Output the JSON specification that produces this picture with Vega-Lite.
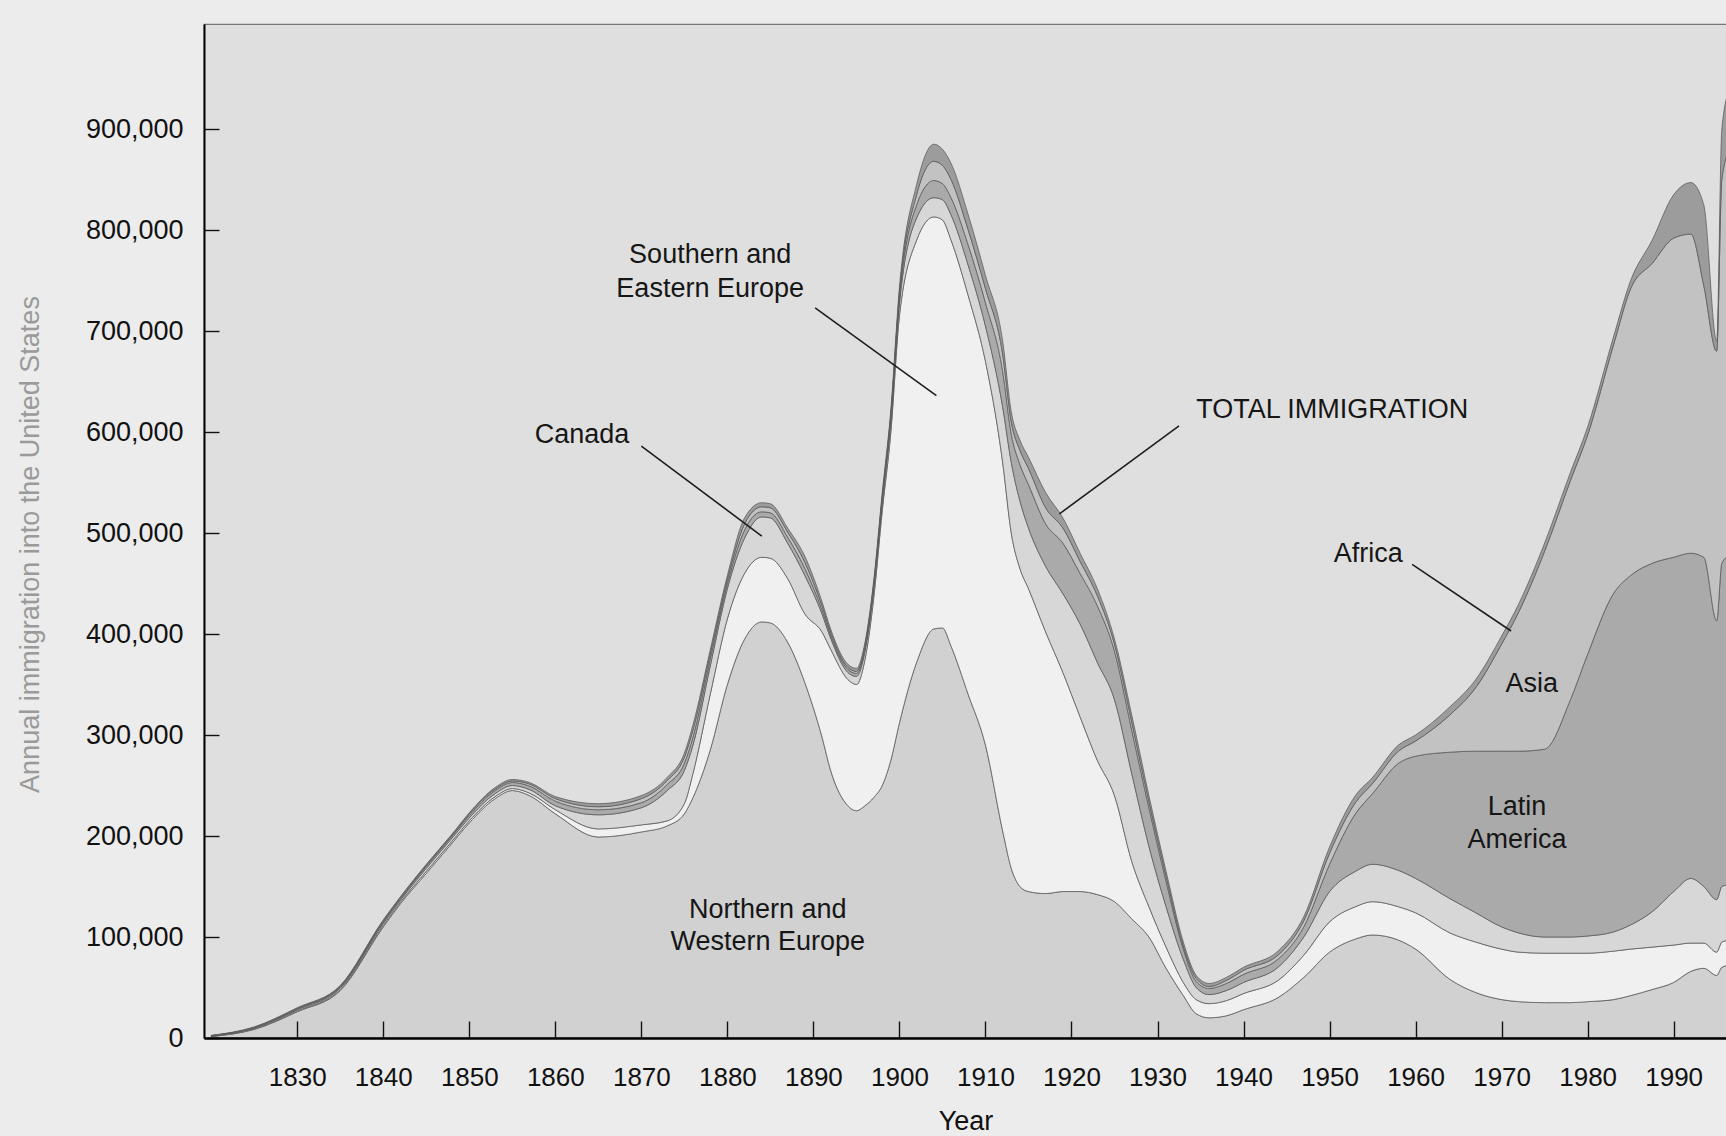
{
  "$schema": "https://vega.github.io/schema/vega-lite/v6.json",
  "width": 1523,
  "height": 1014,
  "autosize": {"type": "none"},
  "padding": {"left": 204, "top": 24, "right": 0, "bottom": 98},
  "background": "#ececec",
  "config": {
    "font": "Liberation Sans",
    "view": {"fill": "#dfdfdf", "stroke": "#777777", "strokeWidth": 1.2}
  },
  "datasets": {
    "immigration": [
      {"year": 1820, "NorthWestEurope": 1500, "SouthEastEurope": 200, "Canada": 300, "LatinAmerica": 200, "Asia": 200, "Africa": 200},
      {"year": 1825, "NorthWestEurope": 8500, "SouthEastEurope": 500, "Canada": 800, "LatinAmerica": 400, "Asia": 300, "Africa": 500},
      {"year": 1830, "NorthWestEurope": 26000, "SouthEastEurope": 800, "Canada": 1200, "LatinAmerica": 700, "Asia": 600, "Africa": 700},
      {"year": 1835, "NorthWestEurope": 47000, "SouthEastEurope": 1000, "Canada": 1500, "LatinAmerica": 1000, "Asia": 800, "Africa": 700},
      {"year": 1840, "NorthWestEurope": 110000, "SouthEastEurope": 1500, "Canada": 2000, "LatinAmerica": 1500, "Asia": 1000, "Africa": 1000},
      {"year": 1842, "NorthWestEurope": 133000, "SouthEastEurope": 1500, "Canada": 2000, "LatinAmerica": 1500, "Asia": 1000, "Africa": 1000},
      {"year": 1845, "NorthWestEurope": 163000, "SouthEastEurope": 2000, "Canada": 3000, "LatinAmerica": 2000, "Asia": 1000, "Africa": 1000},
      {"year": 1848, "NorthWestEurope": 193000, "SouthEastEurope": 2000, "Canada": 3000, "LatinAmerica": 2000, "Asia": 1000, "Africa": 1000},
      {"year": 1850, "NorthWestEurope": 213000, "SouthEastEurope": 2000, "Canada": 3000, "LatinAmerica": 2500, "Asia": 1500, "Africa": 1000},
      {"year": 1853, "NorthWestEurope": 237000, "SouthEastEurope": 2000, "Canada": 3000, "LatinAmerica": 3000, "Asia": 1500, "Africa": 1500},
      {"year": 1855, "NorthWestEurope": 245000, "SouthEastEurope": 2000, "Canada": 3000, "LatinAmerica": 3000, "Asia": 1500, "Africa": 1500},
      {"year": 1857, "NorthWestEurope": 240000, "SouthEastEurope": 2500, "Canada": 3500, "LatinAmerica": 3500, "Asia": 2000, "Africa": 1500},
      {"year": 1860, "NorthWestEurope": 222000, "SouthEastEurope": 4000, "Canada": 4000, "LatinAmerica": 4500, "Asia": 2500, "Africa": 2000},
      {"year": 1865, "NorthWestEurope": 199000, "SouthEastEurope": 8000, "Canada": 14000, "LatinAmerica": 5000, "Asia": 3000, "Africa": 3000},
      {"year": 1870, "NorthWestEurope": 204000, "SouthEastEurope": 7000, "Canada": 17000, "LatinAmerica": 5000, "Asia": 4000, "Africa": 3000},
      {"year": 1873, "NorthWestEurope": 210000, "SouthEastEurope": 5000, "Canada": 30000, "LatinAmerica": 6000, "Asia": 4000, "Africa": 3000},
      {"year": 1875, "NorthWestEurope": 222000, "SouthEastEurope": 10000, "Canada": 33000, "LatinAmerica": 7000, "Asia": 6000, "Africa": 4000},
      {"year": 1876, "NorthWestEurope": 238000, "SouthEastEurope": 24000, "Canada": 28000, "LatinAmerica": 8000, "Asia": 7000, "Africa": 5000},
      {"year": 1878, "NorthWestEurope": 285000, "SouthEastEurope": 55000, "Canada": 28000, "LatinAmerica": 7000, "Asia": 5000, "Africa": 4000},
      {"year": 1880, "NorthWestEurope": 350000, "SouthEastEurope": 65000, "Canada": 30000, "LatinAmerica": 5000, "Asia": 4000, "Africa": 4000},
      {"year": 1882, "NorthWestEurope": 395000, "SouthEastEurope": 65000, "Canada": 35000, "LatinAmerica": 8000, "Asia": 6000, "Africa": 6000},
      {"year": 1884, "NorthWestEurope": 412000, "SouthEastEurope": 64000, "Canada": 40000, "LatinAmerica": 5000, "Asia": 5000, "Africa": 4000},
      {"year": 1885, "NorthWestEurope": 411000, "SouthEastEurope": 64000, "Canada": 40000, "LatinAmerica": 5000, "Asia": 5000, "Africa": 4000},
      {"year": 1887, "NorthWestEurope": 392000, "SouthEastEurope": 63000, "Canada": 35000, "LatinAmerica": 6000, "Asia": 5000, "Africa": 4000},
      {"year": 1889, "NorthWestEurope": 352000, "SouthEastEurope": 68000, "Canada": 38000, "LatinAmerica": 7000, "Asia": 6000, "Africa": 6000},
      {"year": 1891, "NorthWestEurope": 298000, "SouthEastEurope": 104000, "Canada": 18000, "LatinAmerica": 4000, "Asia": 4000, "Africa": 4000},
      {"year": 1892, "NorthWestEurope": 265000, "SouthEastEurope": 120000, "Canada": 11000, "LatinAmerica": 3000, "Asia": 3000, "Africa": 3000},
      {"year": 1894, "NorthWestEurope": 230000, "SouthEastEurope": 125000, "Canada": 7000, "LatinAmerica": 3000, "Asia": 2000, "Africa": 3000},
      {"year": 1895, "NorthWestEurope": 225000, "SouthEastEurope": 125000, "Canada": 8000, "LatinAmerica": 3000, "Asia": 2000, "Africa": 3000},
      {"year": 1896, "NorthWestEurope": 230000, "SouthEastEurope": 145000, "Canada": 8000, "LatinAmerica": 3000, "Asia": 3000, "Africa": 3000},
      {"year": 1897, "NorthWestEurope": 238000, "SouthEastEurope": 197000, "Canada": 8000, "LatinAmerica": 3000, "Asia": 3000, "Africa": 3000},
      {"year": 1898, "NorthWestEurope": 250000, "SouthEastEurope": 272000, "Canada": 8000, "LatinAmerica": 3000, "Asia": 3000, "Africa": 4000},
      {"year": 1899, "NorthWestEurope": 275000, "SouthEastEurope": 325000, "Canada": 10000, "LatinAmerica": 4000, "Asia": 4000, "Africa": 4000},
      {"year": 1900, "NorthWestEurope": 312000, "SouthEastEurope": 403000, "Canada": 12000, "LatinAmerica": 6000, "Asia": 5000, "Africa": 5000},
      {"year": 1902, "NorthWestEurope": 372000, "SouthEastEurope": 418000, "Canada": 22000, "LatinAmerica": 13000, "Asia": 10000, "Africa": 10000},
      {"year": 1904, "NorthWestEurope": 405000, "SouthEastEurope": 408000, "Canada": 19000, "LatinAmerica": 17000, "Asia": 19000, "Africa": 17000},
      {"year": 1905, "NorthWestEurope": 406000, "SouthEastEurope": 404000, "Canada": 20000, "LatinAmerica": 16000, "Asia": 18000, "Africa": 16000},
      {"year": 1906, "NorthWestEurope": 388000, "SouthEastEurope": 402000, "Canada": 25000, "LatinAmerica": 17000, "Asia": 18000, "Africa": 16000},
      {"year": 1908, "NorthWestEurope": 340000, "SouthEastEurope": 395000, "Canada": 30000, "LatinAmerica": 20000, "Asia": 15000, "Africa": 15000},
      {"year": 1910, "NorthWestEurope": 290000, "SouthEastEurope": 380000, "Canada": 35000, "LatinAmerica": 23000, "Asia": 14000, "Africa": 13000},
      {"year": 1912, "NorthWestEurope": 205000, "SouthEastEurope": 365000, "Canada": 55000, "LatinAmerica": 35000, "Asia": 17000, "Africa": 13000},
      {"year": 1913, "NorthWestEurope": 168000, "SouthEastEurope": 332000, "Canada": 70000, "LatinAmerica": 28000, "Asia": 12000, "Africa": 10000},
      {"year": 1914, "NorthWestEurope": 150000, "SouthEastEurope": 315000, "Canada": 67000, "LatinAmerica": 36000, "Asia": 14000, "Africa": 10000},
      {"year": 1915, "NorthWestEurope": 145000, "SouthEastEurope": 300000, "Canada": 60000, "LatinAmerica": 43000, "Asia": 16000, "Africa": 11000},
      {"year": 1917, "NorthWestEurope": 143000, "SouthEastEurope": 259000, "Canada": 65000, "LatinAmerica": 42000, "Asia": 16000, "Africa": 15000},
      {"year": 1919, "NorthWestEurope": 145000, "SouthEastEurope": 217000, "Canada": 78000, "LatinAmerica": 50000, "Asia": 15000, "Africa": 10000},
      {"year": 1921, "NorthWestEurope": 145000, "SouthEastEurope": 173000, "Canada": 92000, "LatinAmerica": 50000, "Asia": 12000, "Africa": 8000},
      {"year": 1923, "NorthWestEurope": 142000, "SouthEastEurope": 133000, "Canada": 97000, "LatinAmerica": 56000, "Asia": 10000, "Africa": 7000},
      {"year": 1925, "NorthWestEurope": 135000, "SouthEastEurope": 105000, "Canada": 95000, "LatinAmerica": 48000, "Asia": 7000, "Africa": 5000},
      {"year": 1927, "NorthWestEurope": 118000, "SouthEastEurope": 57000, "Canada": 87000, "LatinAmerica": 43000, "Asia": 8000, "Africa": 7000},
      {"year": 1929, "NorthWestEurope": 100000, "SouthEastEurope": 30000, "Canada": 60000, "LatinAmerica": 38000, "Asia": 6000, "Africa": 6000},
      {"year": 1931, "NorthWestEurope": 69000, "SouthEastEurope": 21000, "Canada": 40000, "LatinAmerica": 25000, "Asia": 5000, "Africa": 5000},
      {"year": 1933, "NorthWestEurope": 42000, "SouthEastEurope": 13000, "Canada": 23000, "LatinAmerica": 10000, "Asia": 3000, "Africa": 4000},
      {"year": 1934.5, "NorthWestEurope": 24000, "SouthEastEurope": 14000, "Canada": 12000, "LatinAmerica": 6000, "Asia": 3000, "Africa": 3000},
      {"year": 1936, "NorthWestEurope": 20000, "SouthEastEurope": 14000, "Canada": 9000, "LatinAmerica": 6000, "Asia": 2000, "Africa": 3000},
      {"year": 1938, "NorthWestEurope": 22000, "SouthEastEurope": 15000, "Canada": 10000, "LatinAmerica": 7000, "Asia": 3000, "Africa": 3000},
      {"year": 1940, "NorthWestEurope": 28000, "SouthEastEurope": 16000, "Canada": 11000, "LatinAmerica": 8000, "Asia": 4000, "Africa": 3000},
      {"year": 1944, "NorthWestEurope": 40000, "SouthEastEurope": 17000, "Canada": 13000, "LatinAmerica": 8000, "Asia": 4000, "Africa": 4000},
      {"year": 1947, "NorthWestEurope": 60000, "SouthEastEurope": 22000, "Canada": 18000, "LatinAmerica": 10000, "Asia": 6000, "Africa": 4000},
      {"year": 1950, "NorthWestEurope": 85000, "SouthEastEurope": 30000, "Canada": 30000, "LatinAmerica": 27000, "Asia": 11000, "Africa": 6000},
      {"year": 1953, "NorthWestEurope": 98000, "SouthEastEurope": 32000, "Canada": 35000, "LatinAmerica": 57000, "Asia": 11000, "Africa": 7000},
      {"year": 1955, "NorthWestEurope": 102000, "SouthEastEurope": 33000, "Canada": 37000, "LatinAmerica": 70000, "Asia": 10000, "Africa": 6000},
      {"year": 1958, "NorthWestEurope": 97000, "SouthEastEurope": 33000, "Canada": 36000, "LatinAmerica": 106000, "Asia": 12000, "Africa": 6000},
      {"year": 1960, "NorthWestEurope": 88000, "SouthEastEurope": 36000, "Canada": 34000, "LatinAmerica": 121000, "Asia": 15000, "Africa": 6000},
      {"year": 1964, "NorthWestEurope": 58000, "SouthEastEurope": 46000, "Canada": 34000, "LatinAmerica": 145000, "Asia": 37000, "Africa": 8000},
      {"year": 1967, "NorthWestEurope": 45000, "SouthEastEurope": 50000, "Canada": 29000, "LatinAmerica": 160000, "Asia": 63000, "Africa": 8000},
      {"year": 1970, "NorthWestEurope": 38000, "SouthEastEurope": 50000, "Canada": 22000, "LatinAmerica": 174000, "Asia": 106000, "Africa": 8000},
      {"year": 1972, "NorthWestEurope": 36000, "SouthEastEurope": 49000, "Canada": 19000, "LatinAmerica": 180000, "Asia": 138000, "Africa": 8000},
      {"year": 1975, "NorthWestEurope": 35000, "SouthEastEurope": 49000, "Canada": 16000, "LatinAmerica": 186000, "Asia": 196000, "Africa": 8000},
      {"year": 1978, "NorthWestEurope": 35000, "SouthEastEurope": 49000, "Canada": 16000, "LatinAmerica": 235000, "Asia": 217000, "Africa": 8000},
      {"year": 1980, "NorthWestEurope": 36000, "SouthEastEurope": 48000, "Canada": 17000, "LatinAmerica": 279000, "Asia": 217000, "Africa": 8000},
      {"year": 1983, "NorthWestEurope": 38000, "SouthEastEurope": 48000, "Canada": 19000, "LatinAmerica": 335000, "Asia": 246000, "Africa": 8000},
      {"year": 1985, "NorthWestEurope": 42000, "SouthEastEurope": 46000, "Canada": 24000, "LatinAmerica": 346000, "Asia": 284000, "Africa": 8000},
      {"year": 1987.5, "NorthWestEurope": 48000, "SouthEastEurope": 42000, "Canada": 35000, "LatinAmerica": 345000, "Asia": 297000, "Africa": 23000},
      {"year": 1990, "NorthWestEurope": 55000, "SouthEastEurope": 37000, "Canada": 53000, "LatinAmerica": 331000, "Asia": 316000, "Africa": 43000},
      {"year": 1992, "NorthWestEurope": 66000, "SouthEastEurope": 28000, "Canada": 64000, "LatinAmerica": 322000, "Asia": 316000, "Africa": 51000},
      {"year": 1993.5, "NorthWestEurope": 69000, "SouthEastEurope": 25000, "Canada": 56000, "LatinAmerica": 326000, "Asia": 269000, "Africa": 80000},
      {"year": 1995, "NorthWestEurope": 62000, "SouthEastEurope": 23000, "Canada": 52000, "LatinAmerica": 276000, "Asia": 267000, "Africa": 10000},
      {"year": 1995.6, "NorthWestEurope": 70000, "SouthEastEurope": 25000, "Canada": 55000, "LatinAmerica": 320000, "Asia": 380000, "Africa": 50000},
      {"year": 1996.5, "NorthWestEurope": 72000, "SouthEastEurope": 25000, "Canada": 55000, "LatinAmerica": 326000, "Asia": 402000, "Africa": 60000}
    ],
    "regions": [
      {"region": "NorthWestEurope", "stackOrder": 1},
      {"region": "SouthEastEurope", "stackOrder": 2},
      {"region": "Canada", "stackOrder": 3},
      {"region": "LatinAmerica", "stackOrder": 4},
      {"region": "Asia", "stackOrder": 5},
      {"region": "Africa", "stackOrder": 6}
    ],
    "leaders": [
      {"year": 1890.2, "immigrants": 723000, "year2": 1904.3, "immigrants2": 636000},
      {"year": 1870.0, "immigrants": 586000, "year2": 1884.0, "immigrants2": 497000},
      {"year": 1932.5, "immigrants": 606000, "year2": 1918.6, "immigrants2": 519000},
      {"year": 1959.6, "immigrants": 469000, "year2": 1971.1, "immigrants2": 403000}
    ],
    "labels": [
      {"year": 1878.0, "immigrants": 775000, "text": "Southern and"},
      {"year": 1878.0, "immigrants": 742000, "text": "Eastern Europe"},
      {"year": 1863.1, "immigrants": 597000, "text": "Canada"},
      {"year": 1950.3, "immigrants": 622000, "text": "TOTAL IMMIGRATION"},
      {"year": 1954.5, "immigrants": 479000, "text": "Africa"},
      {"year": 1973.5, "immigrants": 351000, "text": "Asia"},
      {"year": 1971.8, "immigrants": 229000, "text": "Latin"},
      {"year": 1971.8, "immigrants": 196000, "text": "America"},
      {"year": 1884.7, "immigrants": 127000, "text": "Northern and"},
      {"year": 1884.7, "immigrants": 95000, "text": "Western Europe"}
    ]
  },
  "encoding": {
    "x": {
      "field": "year", "type": "quantitative",
      "scale": {"domain": [1819.16, 1996.2], "nice": false, "zero": false},
      "axis": {
        "title": "Year", "values": [1830, 1840, 1850, 1860, 1870, 1880, 1890, 1900, 1910, 1920, 1930, 1940, 1950, 1960, 1970, 1980, 1990],
        "labelExpr": "format(datum.value, 'd')", "zindex": 1,
        "ticks": false, "grid": true, "gridDash": [17, 3000], "gridDashOffset": 2020, "gridColor": "#111111", "gridWidth": 1.4, "gridOpacity": 1,
        "domainColor": "#000000", "domainWidth": 2.5, "labelFontSize": 26, "labelColor": "#111111",
        "labelPadding": 26, "labelFlush": false, "labelOverlap": false,
        "titleFontSize": 27, "titleFontWeight": "normal", "titleColor": "#111111", "titlePadding": 18
      }
    },
    "y": {
      "field": "immigrants", "type": "quantitative",
      "scale": {"domain": [0, 1004000], "nice": false},
      "axis": {
        "title": "Annual immigration into the United States",
        "values": [0, 100000, 200000, 300000, 400000, 500000, 600000, 700000, 800000, 900000],
        "labelExpr": "format(datum.value, ',')", "zindex": 1,
        "ticks": false, "grid": true, "gridDash": [15, 3000], "gridColor": "#111111", "gridWidth": 1.4, "gridOpacity": 1,
        "domainColor": "#000000", "domainWidth": 2, "labelFontSize": 27, "labelColor": "#111111",
        "labelPadding": 21, "labelOverlap": false,
        "titleFontSize": 27, "titleFontWeight": "normal", "titleColor": "#9a9a9a",
        "titleX": -174, "titleY": 520, "titleBaseline": "middle"
      }
    }
  },
  "layer": [
    {
      "data": {"name": "immigration"},
      "transform": [
        {"fold": ["NorthWestEurope", "SouthEastEurope", "Canada", "LatinAmerica", "Asia", "Africa"], "as": ["region", "immigrants"]},
        {"lookup": "region", "from": {"data": {"name": "regions"}, "key": "region", "fields": ["stackOrder"]}}
      ],
      "mark": {"type": "area", "interpolate": "monotone", "clip": true, "stroke": "#5a5a5a", "strokeWidth": 0.9, "strokeOpacity": 0.85},
      "encoding": {
        "color": {
          "field": "region", "type": "nominal", "legend": null,
          "scale": {
            "domain": ["NorthWestEurope", "SouthEastEurope", "Canada", "LatinAmerica", "Asia", "Africa"],
            "range": ["#d1d1d1", "#f0f0f0", "#d7d7d7", "#aaaaaa", "#c2c2c2", "#9c9c9c"]
          }
        },
        "order": {"field": "stackOrder", "type": "quantitative", "sort": "ascending"}
      }
    },
    {
      "data": {"name": "leaders"},
      "mark": {"type": "rule", "color": "#1e1e1e", "strokeWidth": 1.6},
      "encoding": {
        "x2": {"field": "year2"},
        "y2": {"field": "immigrants2"}
      }
    },
    {
      "data": {"name": "labels"},
      "mark": {"type": "text", "fontSize": 27, "align": "center", "baseline": "middle", "color": "#161616", "font": "Liberation Sans"},
      "encoding": {
        "text": {"field": "text"}
      }
    }
  ]
}
